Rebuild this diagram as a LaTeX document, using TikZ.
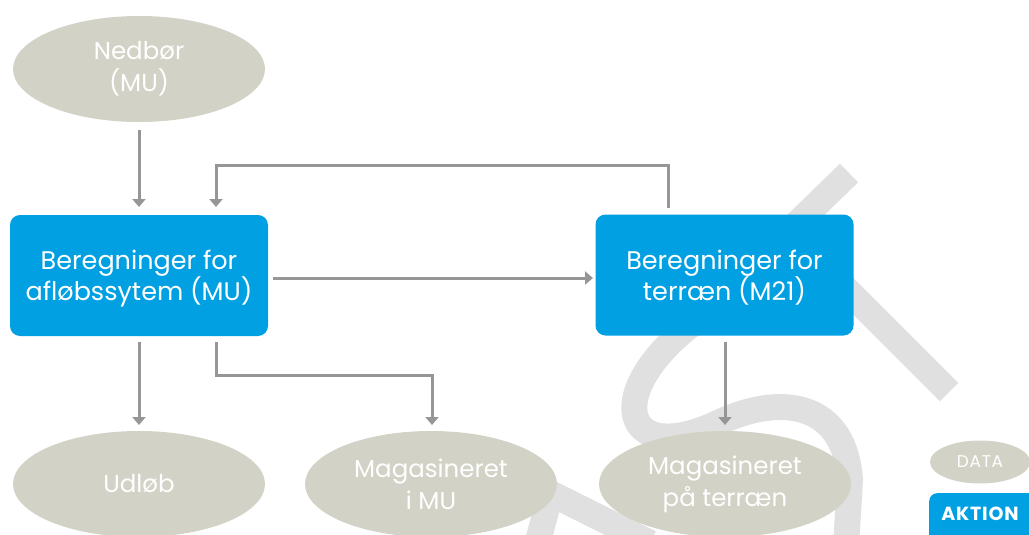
\documentclass[tikz,border=0pt]{standalone}
\usepackage{fontspec}
\setmainfont{Poppins}
\usetikzlibrary{shapes.geometric,arrows.meta}
\definecolor{boxblue}{RGB}{0,160,227}
\definecolor{databeige}{RGB}{211,210,198}
\definecolor{arrowgray}{RGB}{150,150,150}
\definecolor{wmgray}{RGB}{224,224,224}
\tikzset{
  datanode/.style={ellipse, fill=databeige, text=white, inner sep=0pt, align=center,
    minimum width=252pt, minimum height=106pt, font=\fontsize{24.5}{32}\selectfont},
  actionnode/.style={rectangle, rounded corners=10pt, fill=boxblue, inner sep=0pt,
    minimum width=258pt, minimum height=121pt},
  actiontext/.style={text=white, inner sep=0pt, align=center, font=\fontsize{25.5}{31}\selectfont},
  conn/.style={draw=arrowgray, line width=3pt, -{Triangle[width=13pt,length=8pt]}},
  wm/.style={draw=wmgray, line width=26pt, line cap=butt},
}
\begin{document}
\begin{tikzpicture}[x=1pt,y=-1pt]
\useasboundingbox (0,0) rectangle (1029,535);
% watermark
\draw[wm] (849,173) -- (700,318) .. controls (600,390) and (620,470) .. (720,422)
  .. controls (785,392) and (845,405) .. (850,480) -- (846,545);
\draw[wm] (949,392) -- (787,230);
\draw[wm] (500,468) -- (650,543);
\draw[wm] (549,500) -- (537,545);
% nodes
\node[datanode] (ned) at (139,69) {Nedbør\\(MU)};
\node[actionnode] (mu) at (139,275.5) {};
\node[actiontext] (mut) at ([yshift=-3pt]mu.center) {Beregninger for\\afløbssytem (MU)};
\node[actionnode] (m21) at (724.5,275) {};
\node[actiontext] (m21t) at ([yshift=-3pt]m21.center) {Beregninger for\\terræn (M21)};
\node[datanode] (udl) at (139,484) {Udløb};
\node[datanode] (magmu) at (431,484) {Magasineret\\i MU};
\node[datanode] (magt) at (725,484) {Magasineret\\på terræn};
\node[ellipse, fill=databeige, text=white, inner sep=0pt, minimum width=100pt, minimum height=43pt,
  font=\fontsize{17}{18}\selectfont\addfontfeature{LetterSpace=4}] (leg1) at (980,462) {DATA};
\node[rectangle, rounded corners=8pt, fill=boxblue, inner sep=0pt, minimum width=110pt,
  minimum height=50pt, anchor=north west] (leg2) at (929,493) {};
\node[text=white, inner sep=0pt, font=\bfseries\fontsize{19}{20}\selectfont\addfontfeature{LetterSpace=4}] (leg2t) at (980,514) {AKTION};
% connectors
\coordinate (c1) at (139,130);
\coordinate (c2) at (139,342);
\coordinate (c3) at (216,342);
\coordinate (c4) at (725,342);
\coordinate (c5) at (668,208);
\draw[conn] (c1) -- (139,207);
\draw[conn] (c5) -- (668,165) -- (216,165) -- (216,207);
\draw[conn] (273,278) -- (593,278);
\draw[conn] (c2) -- (139,425);
\draw[conn] (c3) -- (216,375) -- (432,375) -- (432,425);
\draw[conn] (c4) -- (725,425);
\end{tikzpicture}
\end{document}
